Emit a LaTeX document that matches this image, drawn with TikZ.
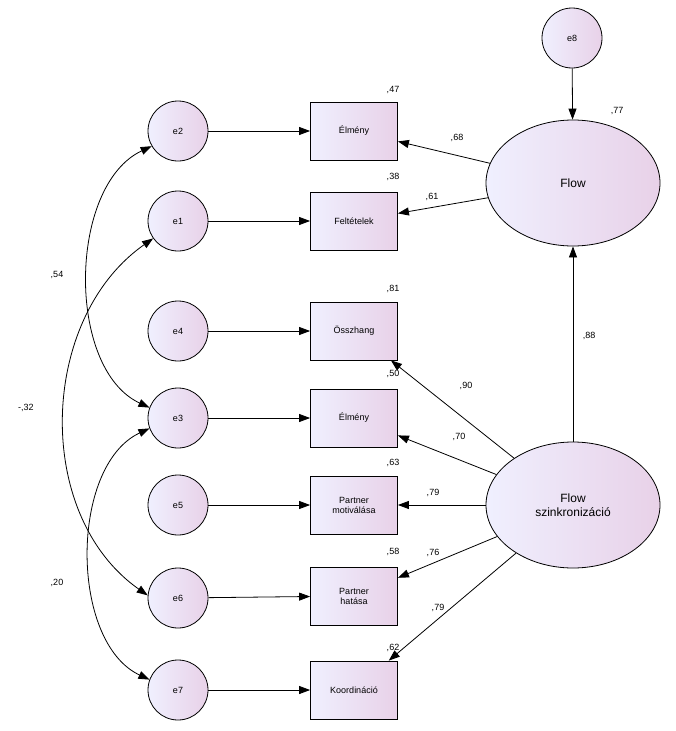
\documentclass[tikz,border=0pt]{standalone}
\usepackage{fontspec}
\setmainfont{Liberation Sans}
\usetikzlibrary{shapes.geometric,arrows.meta}
\begin{document}
\begin{tikzpicture}[x=1pt,y=-1pt,
  fillg/.style={left color=black!4!blue!6, right color=violet!18!white},
  err/.style={circle,draw,thick,minimum size=60pt,inner sep=0pt,fillg,font=\fontsize{9}{10}\selectfont},
  obs/.style={rectangle,draw,thick,minimum width=87pt,minimum height=58pt,inner sep=1pt,align=center,fillg,font=\fontsize{9}{10}\selectfont},
  lat/.style={ellipse,draw,thick,minimum width=174pt,minimum height=126pt,inner sep=0pt,align=center,fillg,font=\fontsize{12}{14}\selectfont},
  arr/.style={thick,-{Triangle[length=11pt,width=8pt]}},
  darr/.style={thick,{Triangle[length=11pt,width=8pt]}-{Triangle[length=11pt,width=8pt]}},
  lab/.style={font=\fontsize{9}{10}\selectfont,inner sep=0pt}]
\useasboundingbox (0,0) rectangle (675,731);
\node[err] (e2) at (178,131) {e2};
\node[err] (e1) at (178,221) {e1};
\node[err] (e4) at (178,331) {e4};
\node[err] (e3) at (178,418) {e3};
\node[err] (e5) at (178,505) {e5};
\node[err] (e6) at (178,598) {e6};
\node[err] (e7) at (178,690) {e7};
\node[err] (e8) at (572,38) {e8};
\node[obs] (b1) at (354,131) {Élmény};
\node[obs] (b2) at (354,221) {Feltételek};
\node[obs] (b3) at (354,331) {Összhang};
\node[obs] (b4) at (354,418) {Élmény};
\node[obs] (b5) at (354,505) {Partner\\motiválása};
\node[obs] (b6) at (354,596) {Partner\\hatása};
\node[obs] (b7) at (354,690) {Koordináció};
\node[lat] (F) at (573,183) {Flow};
\node[lat] (S) at (573,505) {Flow\\szinkronizáció};
\foreach \a/\b in {e2/b1,e1/b2,e4/b3,e3/b4,e5/b5,e6/b6,e7/b7} \draw[arr] (\a) -- (\b);
\draw[arr] (e8) -- (F);
\draw[arr] (F) -- (b1);
\draw[arr] (F) -- (b2);
\draw[arr] (S) -- (F);
\foreach \b in {b3,b4,b5,b6,b7} \draw[arr] (S) -- (\b);
\draw[darr] (e2.210) to[out=205,in=155,looseness=0.9] (e3.160);
\draw[darr] (e1.215) to[out=215,in=145,looseness=1.0] (e6.175);
\draw[darr] (e3.200) to[out=205,in=155,looseness=0.9] (e7.160);
\node[lab] (l1) at (393,90) {,47};
\node[lab] (l2) at (393,177) {,38};
\node[lab] (l3) at (393,289) {,81};
\node[lab] (l4) at (393,374) {,50};
\node[lab] (l5) at (393,463) {,63};
\node[lab] (l6) at (393,552) {,58};
\node[lab] (l7) at (393,648) {,62};
\node[lab] (l8) at (617,111) {,77};
\node[lab] (l9) at (457,138) {,68};
\node[lab] (l10) at (432,197) {,61};
\node[lab] (l11) at (589,336) {,88};
\node[lab] (l12) at (466,386) {,90};
\node[lab] (l13) at (459,437) {,70};
\node[lab] (l14) at (433,493) {,79};
\node[lab] (l15) at (433,553) {,76};
\node[lab] (l16) at (438,608) {,79};
\node[lab] (l17) at (57,275) {,54};
\node[lab] (l18) at (26,408) {-,32};
\node[lab] (l19) at (57,583) {,20};
\end{tikzpicture}
\end{document}
